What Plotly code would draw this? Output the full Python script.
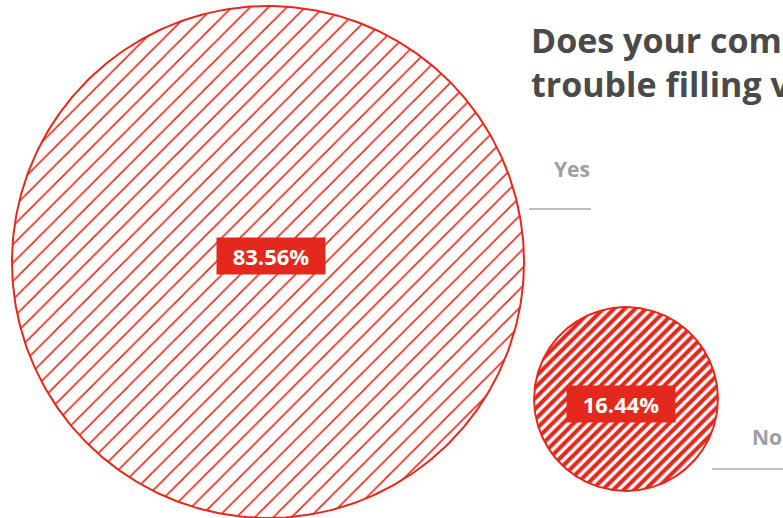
import numpy as np
import plotly.graph_objects as go

# Survey answers and their shares (%)
answers = ["Yes", "No"]
shares = [83.56, 16.44]
title_text = "Does your company have<br>trouble filling vacancies?"

RED = "#E3291D"
GREY_LABEL = "#9B9FA4"
GREY_LINE = "#A6AAAE"
TITLE_COLOR = "#4A4A4A"

W, H = 783, 518

# Layout of the bubbles (pixel space: x right, y down)
centers = [(268, 262), (626, 399)]
R_MAX = 256
EXPONENT = 0.63
patterns = [
    dict(shape="/", size=13, solidity=0.12, fgcolor=RED, bgcolor="white", fgopacity=1),
    dict(shape="/", size=7.5, solidity=0.55, fgcolor=RED, bgcolor="white", fgopacity=1),
]
label_pos = [(271, 256), (620.5, 404)]
answer_pos = [(552, 169), (750, 437)]
leader_lines = [(529, 591, 209), (712, 790, 469)]

fig = go.Figure()
theta = np.linspace(0, 2 * np.pi, 361)
vmax = max(shares)
for share, (cx, cy), pat in zip(shares, centers, patterns):
    r = R_MAX * (share / vmax) ** EXPONENT
    fig.add_trace(go.Scatter(
        x=cx + r * np.cos(theta),
        y=cy + r * np.sin(theta),
        mode="lines",
        fill="toself",
        fillpattern=pat,
        fillcolor="white",
        line=dict(color=RED, width=2),
        hoverinfo="skip",
        showlegend=False,
    ))

annotations = []
for share, (lx, ly) in zip(shares, label_pos):
    annotations.append(dict(
        x=lx, y=ly, xref="x", yref="y", text=f"{share:.2f}%",
        showarrow=False, bgcolor=RED, width=104, height=32, borderpad=2,
        font=dict(family="Open Sans", size=22, color="white", weight="bold"),
        xanchor="center", yanchor="middle",
    ))
for ans, (ax, ay) in zip(answers, answer_pos):
    annotations.append(dict(
        x=ax, y=ay, xref="x", yref="y", text=ans, showarrow=False,
        font=dict(family="Open Sans", size=21, color=GREY_LABEL, weight="bold"),
        xanchor="left", yanchor="middle",
    ))
annotations.append(dict(
    x=529, y=15, xref="x", yref="y", text=title_text, showarrow=False,
    align="left", xanchor="left", yanchor="top",
    font=dict(family="Open Sans", size=34, color=TITLE_COLOR, weight="bold"),
))

shapes = [
    dict(type="line", xref="x", yref="y", x0=x0, x1=x1, y0=y, y1=y,
         line=dict(color=GREY_LINE, width=1.5))
    for x0, x1, y in leader_lines
]

fig.update_layout(
    width=W, height=H,
    margin=dict(l=0, r=0, t=0, b=0),
    paper_bgcolor="white", plot_bgcolor="white",
    xaxis=dict(range=[0, W], visible=False, fixedrange=True),
    yaxis=dict(range=[H, 0], visible=False, fixedrange=True),
    annotations=annotations,
    shapes=shapes,
)

fig.write_html("out.html")
